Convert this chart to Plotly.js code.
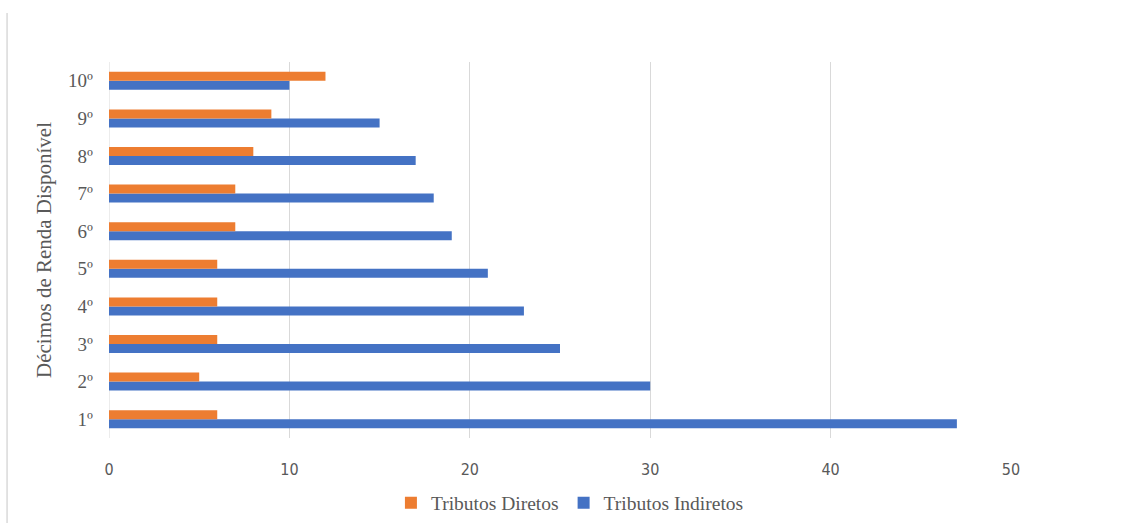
<!DOCTYPE html>
<html>
<head>
<meta charset="utf-8">
<script src="https://cdn.plot.ly/plotly-3.0.1.min.js"></script>
<style>html,body{margin:0;padding:0;background:#fff;}#chart{width:1122px;height:523px;}</style>
</head>
<body>
<div id="chart"></div>
<script>
const categories = ["1º","2º","3º","4º","5º","6º","7º","8º","9º","10º"];
const tributosDiretos = [6, 5, 6, 6, 6, 7, 7, 8, 9, 12];
const tributosIndiretos = [47, 30, 25, 23, 21, 19, 18, 17, 15, 10];
const xTicks = [0, 10, 20, 30, 40, 50];

const serif = "'Liberation Serif', 'DejaVu Serif', serif";
const sans = "'Liberation Sans Narrow', 'DejaVu Sans Condensed', 'Liberation Sans', sans-serif";

const traces = [
  {type:'bar', orientation:'h', name:'Tributos Indiretos', y:categories, x:tributosIndiretos,
   marker:{color:'#4472C4'}, legendrank:2, hoverinfo:'x+name'},
  {type:'bar', orientation:'h', name:'Tributos Diretos', y:categories, x:tributosDiretos,
   marker:{color:'#ED7D31'}, legendrank:1, hoverinfo:'x+name'}
];

const layout = {
  width:1122, height:523,
  margin:{l:109, r:111, t:62, b:85, autoexpand:false},
  paper_bgcolor:'#fff', plot_bgcolor:'#fff',
  barmode:'group', bargap:0.52, bargroupgap:0,
  showlegend:true,
  legend:{orientation:'h', x:0.511, xanchor:'center', yref:'container', y:0.038, yanchor:'middle',
          font:{family:serif, size:19.5, color:'#595959'}, itemwidth:30},
  xaxis:{range:[0,50], tickvals:xTicks, showgrid:true, gridcolor:'#d9d9d9', gridwidth:1,
         zeroline:false, showline:false, ticks:'', ticklabelstandoff:20, automargin:false,
         tickfont:{family:sans, size:16, color:'#595959'}},
  yaxis:{type:'category', showgrid:false, zeroline:false, showline:false, ticks:'',
         ticklabelstandoff:15, automargin:false,
         tickfont:{family:serif, size:19, color:'#595959'},
         title:{text:'Décimos de Renda Disponível', standoff:10, font:{family:serif, size:21, color:'#595959'}}},
  shapes:[
    {type:'line', xref:'paper', yref:'paper', x0:-0.113, x1:-0.113, y0:-0.3, y1:1.13,
     line:{color:'#d9d9d9', width:1.5}},
    {type:'line', xref:'x', yref:'paper', x0:0, x1:0, y0:0, y1:1,
     line:{color:'#d9d9d9', width:1}, layer:'below'}
  ]
};

Plotly.newPlot('chart', traces, layout, {displayModeBar:false, staticPlot:true});
</script>
</body>
</html>
